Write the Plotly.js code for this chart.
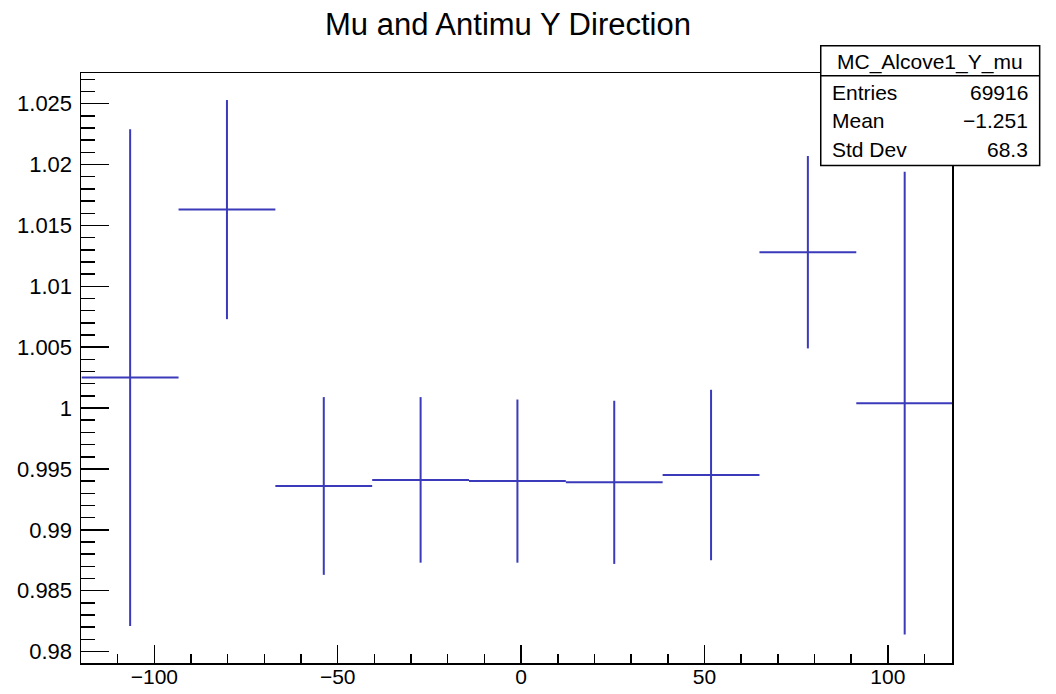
<!DOCTYPE html>
<html>
<head>
<meta charset="utf-8">
<script src="https://cdn.plot.ly/plotly-3.0.1.min.js"></script>
<style>html,body{margin:0;padding:0;background:#fff;}#chart{width:1056px;height:694px;}</style>
</head>
<body>
<div id="chart"></div>
<script>
// Bin centres (Y position) and half bin width
const binCenters = [-106.6, -80.2, -53.8, -27.4, -1.0, 25.4, 51.8, 78.2, 104.6];
const binHalfWidth = [13.2, 13.2, 13.2, 13.2, 13.2, 13.2, 13.2, 13.2, 13.2];
// Ratio values and their errors
const ratioValues = [1.0025, 1.0163, 0.9936, 0.9941, 0.9940, 0.9939, 0.9945, 1.0128, 1.0004];
const ratioErrors = [0.0204, 0.0090, 0.0073, 0.0068, 0.0067, 0.0067, 0.0070, 0.0079, 0.0190];
// Stats box
const statsName = "MC_Alcove1_Y_mu";
const statsLabels = ["Entries", "Mean", "Std Dev"];
const statsValues = ["69916", "\u22121.251", "68.3"];

const FONT = "Liberation Sans, Arial, Helvetica, sans-serif";
const LINE = "#3a3abb";

const trace = {
  type: "scatter",
  mode: "markers",
  x: binCenters,
  y: ratioValues,
  marker: {size: 2, color: LINE, opacity: 0},
  error_x: {type: "data", array: binHalfWidth, visible: true, color: LINE, thickness: 2, width: 0},
  error_y: {type: "data", array: ratioErrors, visible: true, color: LINE, thickness: 2, width: 0},
  hoverinfo: "x+y",
  cliponaxis: true,
  showlegend: false
};

// stats box geometry in pixels -> paper
const L = 81, R = 952.3, T = 73.3, B = 662.7;
const W = R - L, H = B - T;
const px = x => (x - L) / W;
const py = y => (B - y) / H;

const annotations = [
  {xref: "paper", yref: "paper", x: px(930), y: py(62), xanchor: "center", yanchor: "middle",
   text: statsName, showarrow: false, font: {family: FONT, size: 21, color: "#000"}}
];
const rowY = [92.8, 120.8, 149.6];
for (let i = 0; i < statsLabels.length; i++) {
  annotations.push({xref: "paper", yref: "paper", x: px(830), y: py(rowY[i]), xanchor: "left", yanchor: "middle",
    text: statsLabels[i], showarrow: false, font: {family: FONT, size: 21, color: "#000"}});
  annotations.push({xref: "paper", yref: "paper", x: px(1030), y: py(rowY[i]), xanchor: "right", yanchor: "middle",
    text: statsValues[i], showarrow: false, font: {family: FONT, size: 21, color: "#000"}});
}

const layout = {
  width: 1056, height: 694,
  margin: {l: L, r: 1056 - R, t: T, b: 694 - B, pad: 0},
  paper_bgcolor: "#fff", plot_bgcolor: "#fff",
  font: {family: FONT, color: "#000", size: 22},
  title: {text: "Mu and Antimu Y Direction", font: {family: FONT, size: 31, color: "#000"},
          x: 508 / 1056, xanchor: "center", y: 1 - 24 / 694, yanchor: "middle"},
  xaxis: {
    range: [-120.0, 117.5], showgrid: false, zeroline: false,
    showline: true, linecolor: "#000", linewidth: 1.5, mirror: true,
    ticks: "inside", ticklen: 18, tickwidth: 1.5, tickcolor: "#000",
    tick0: 0, dtick: 50,
    minor: {ticks: "inside", ticklen: 9, tickwidth: 1.5, tickcolor: "#000", dtick: 10, tick0: 0, showgrid: false},
    tickfont: {family: FONT, size: 21, color: "#000"},
    ticklabelstandoff: -6
  },
  yaxis: {
    range: [0.97906, 1.02752], showgrid: false, zeroline: false,
    showline: true, linecolor: "#000", linewidth: 1.5, mirror: true,
    ticks: "inside", ticklen: 28, tickwidth: 1.5, tickcolor: "#000",
    tick0: 0, dtick: 0.005,
    minor: {ticks: "inside", ticklen: 14, tickwidth: 1.5, tickcolor: "#000", dtick: 0.001, tick0: 0, showgrid: false},
    tickfont: {family: FONT, size: 22, color: "#000"},
    ticklabelstandoff: 3
  },
  shapes: [
    {type: "rect", xref: "paper", yref: "paper", x0: px(821), x1: px(1040), y0: py(165.7), y1: py(46),
     line: {color: "#000", width: 1.5}, fillcolor: "#fff", layer: "above"},
    {type: "line", xref: "paper", yref: "paper", x0: px(821), x1: px(1040), y0: py(76), y1: py(76),
     line: {color: "#000", width: 1.5}, layer: "above"}
  ],
  annotations: annotations,
  showlegend: false
};

Plotly.newPlot("chart", [trace], layout, {displayModeBar: false, staticPlot: true});
</script>
</body>
</html>
